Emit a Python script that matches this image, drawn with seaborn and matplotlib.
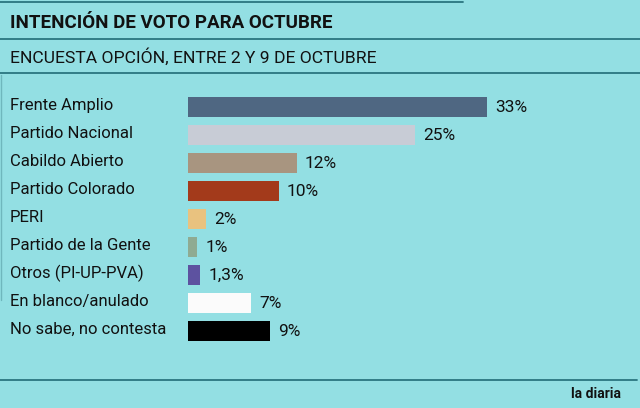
import matplotlib
matplotlib.use("Agg")
import matplotlib.pyplot as plt
import matplotlib.transforms as mtransforms
from matplotlib.lines import Line2D
import seaborn as sns

partidos = [
    "Frente Amplio", "Partido Nacional", "Cabildo Abierto", "Partido Colorado",
    "PERI", "Partido de la Gente", "Otros (PI-UP-PVA)", "En blanco/anulado",
    "No sabe, no contesta",
]
valores = [33, 25, 12, 10, 2, 1, 1.3, 7, 9]
etiquetas = ["33%", "25%", "12%", "10%", "2%", "1%", "1,3%", "7%", "9%"]
colores = ["#4f6782", "#c8ccd6", "#a89580", "#a33a1b", "#e9c27f",
           "#8fab92", "#5d52a0", "#fbfbfb", "#000000"]

bg = "#93dfe3"
linea = "#2a7580"

sns.set_theme(style="white")
plt.rcParams["font.family"] = ["Roboto", "DejaVu Sans"]

fig = plt.figure(figsize=(6.4, 4.08), dpi=100)
fig.patch.set_facecolor(bg)

W, H = 640, 408
ax = fig.add_axes([188 / W, 1 - 345 / H, 412 / W, 252 / H])
ax.set_facecolor(bg)

sns.barplot(x=valores, y=partidos, hue=partidos, palette=colores, legend=False,
            orient="h", width=0.7, saturation=1, linewidth=0, ax=ax)
ax.set_xlim(0, 412 / 9.06)
ax.set_ylim(8.5, -0.5)
for cont, lab in zip(ax.containers, etiquetas):
    ax.bar_label(cont, labels=[lab], padding=6, fontsize=12.5, color="#111111")
ax.set_xticks([])
ax.set_yticks([])
ax.set_xlabel("")
ax.set_ylabel("")
for s in ax.spines.values():
    s.set_visible(False)

# nombres de partidos alineados a la izquierda
trans = mtransforms.blended_transform_factory(fig.transFigure, ax.transData)
for i, p in enumerate(partidos):
    ax.text(10 / W, i - 0.05, p, transform=trans, ha="left", va="center",
            fontsize=12, color="#111111")

# titulos
fig.text(10 / W, 1 - 23 / H, "INTENCIÓN DE VOTO PARA OCTUBRE", fontsize=13.5,
         fontweight="bold", color="#111111", va="center", ha="left")
fig.text(10 / W, 1 - 57 / H, "ENCUESTA OPCIÓN, ENTRE 2 Y 9 DE OCTUBRE", fontsize=12.6,
         color="#111111", va="center", ha="left")
fig.text(621 / W, 1 - 394 / H, "la diaria", fontsize=10, fontweight="bold",
         color="#111111", va="center", ha="right")

# lineas
for x0, x1, y in [(0, 463, 2), (0, 640, 39), (0, 640, 73), (0, 637, 380)]:
    fig.add_artist(Line2D([x0 / W, x1 / W], [1 - y / H] * 2, transform=fig.transFigure,
                          color=linea, lw=1.3))
fig.add_artist(Line2D([1 / W, 1 / W], [1 - 75 / H, 1 - 300 / H], transform=fig.transFigure,
                      color="#6fb7bd", lw=1))

fig.savefig("out.png", dpi=100, facecolor=bg)
